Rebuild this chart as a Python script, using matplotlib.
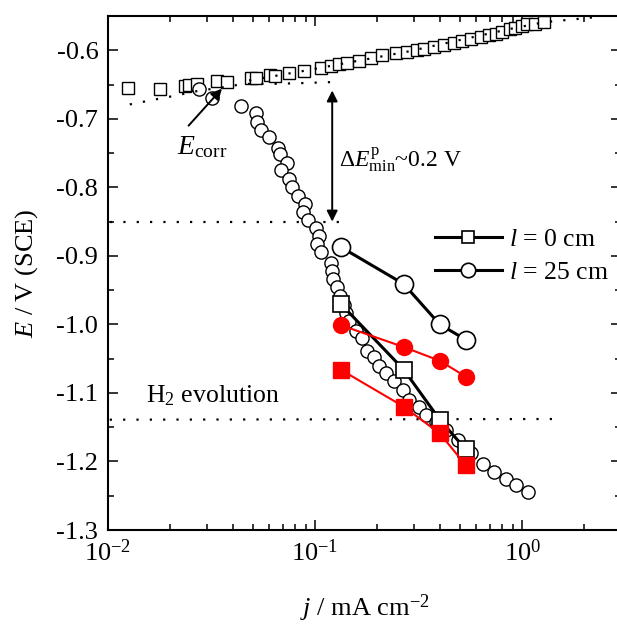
import matplotlib
matplotlib.use('Agg')
import matplotlib.pyplot as plt
from matplotlib.ticker import LogLocator, MultipleLocator, FormatStrFormatter, NullFormatter

plt.rcParams['font.family'] = ['Liberation Serif', 'DejaVu Serif']
plt.rcParams['mathtext.fontset'] = 'custom'
plt.rcParams['mathtext.rm'] = 'Liberation Serif'
plt.rcParams['mathtext.it'] = 'Liberation Serif:italic'
plt.rcParams['axes.unicode_minus'] = False

# anodic polarisation curve (small open squares)
j_anodic = [0.01245, 0.01778, 0.0235, 0.0246, 0.0269, 0.0336, 0.0375, 0.0490, 0.0519,
            0.0606, 0.0640, 0.0748, 0.0885, 0.107, 0.119, 0.131, 0.143, 0.163, 0.187,
            0.211, 0.247, 0.279, 0.311, 0.337, 0.377, 0.421, 0.470, 0.514, 0.569,
            0.636, 0.695, 0.751, 0.803, 0.869, 0.919, 0.993, 1.05, 1.15, 1.28]
E_anodic = [-0.655, -0.657, -0.652, -0.650, -0.649, -0.645, -0.646, -0.640, -0.641,
            -0.636, -0.637, -0.633, -0.630, -0.626, -0.623, -0.620, -0.618, -0.616, -0.611,
            -0.607, -0.604, -0.602, -0.600, -0.598, -0.595, -0.592, -0.590, -0.586, -0.584,
            -0.581, -0.578, -0.576, -0.573, -0.569, -0.567, -0.564, -0.562, -0.561, -0.559]

# cathodic polarisation curve (small open circles)
j_cathodic = [0.0275, 0.0318, 0.0439, 0.0519, 0.0524, 0.0546, 0.0599, 0.0662, 0.0677,
              0.0734, 0.0682, 0.0748, 0.0776, 0.0828, 0.0898, 0.0875, 0.0925, 0.1008,
              0.1045, 0.1026, 0.1066, 0.1191, 0.1202, 0.1222, 0.1270, 0.1321, 0.1381,
              0.1412, 0.1460, 0.1574, 0.1688, 0.1790, 0.1929, 0.2040, 0.2200, 0.2411,
              0.2644, 0.2849, 0.3186, 0.3432, 0.3837, 0.4288, 0.4880, 0.5666, 0.6449,
              0.7345, 0.8366, 0.9354, 1.064]
E_cathodic = [-0.656, -0.670, -0.681, -0.692, -0.705, -0.717, -0.727, -0.742, -0.751,
              -0.764, -0.775, -0.788, -0.800, -0.812, -0.824, -0.836, -0.847, -0.860,
              -0.871, -0.883, -0.895, -0.910, -0.922, -0.933, -0.946, -0.959, -0.971,
              -0.983, -0.995, -1.010, -1.020, -1.039, -1.047, -1.061, -1.071, -1.083,
              -1.095, -1.110, -1.120, -1.132, -1.142, -1.154, -1.169, -1.188, -1.203,
              -1.215, -1.225, -1.234, -1.244]

# galvanostatic points
j_steps = [0.133, 0.268, 0.400, 0.533]
E_l0 = [-0.970, -1.066, -1.139, -1.182]
E_l25 = [-0.887, -0.941, -1.000, -1.022]
E_l0_red = [-1.066, -1.120, -1.159, -1.205]
E_l25_red = [-1.001, -1.033, -1.053, -1.076]

# Tafel fit lines (dotted)
j_fit_a = [0.048, 0.0885, 0.279, 0.869, 1.28, 1.89, 2.37]
E_fit_a = [-0.644, -0.630, -0.602, -0.569, -0.559, -0.554, -0.551]
j_fit_c = [0.01274, 0.0161, 0.0213, 0.0275, 0.0343, 0.0454, 0.0619, 0.0838, 0.131]
E_fit_c = [-0.679, -0.673, -0.666, -0.659, -0.655, -0.649, -0.649, -0.648, -0.646]

j_pass = [0.0102, 0.148]
E_pass = [-0.851, -0.851]
j_h2 = [0.0102, 1.48]
E_h2 = [-1.139, -1.138]

fig = plt.figure(figsize=(6.17, 6.28), dpi=100)
ax = fig.add_axes([0.175, 0.156, 0.8314, 0.8185])

dots = (0, (1, 5))
ax.plot(j_anodic, E_anodic, 's', ms=8, mfc='white', mec='black', mew=1.0, zorder=2)
ax.plot(j_fit_a, E_fit_a, color='black', ls=dots, lw=1.6, zorder=3)
ax.plot(j_fit_c, E_fit_c, color='black', ls=dots, lw=1.6, zorder=3)
ax.plot(j_pass, E_pass, color='black', ls=dots, lw=1.6, zorder=1)
ax.plot(j_h2, E_h2, color='black', ls=dots, lw=1.6, zorder=1)
ax.plot(j_cathodic, E_cathodic, 'o', ms=9.5, mfc='white', mec='black', mew=1.0, zorder=2)

ax.plot(j_steps, E_l0, '-s', color='black', lw=2.2, ms=11.5, mfc='white', mec='black',
        mew=1.2, zorder=4, label=r'$l$ = 0 cm')
ax.plot(j_steps, E_l25, '-o', color='black', lw=2.2, ms=13, mfc='white', mec='black',
        mew=1.2, zorder=4, label=r'$l$ = 25 cm')
ax.plot(j_steps, E_l0_red, '-s', color='red', lw=1.5, ms=11, zorder=5)
ax.plot(j_steps, E_l25_red, '-o', color='red', lw=1.5, ms=11.5, zorder=5)

# annotations
ax.annotate('', xy=(0.121, -0.6586), xytext=(0.121, -0.850),
            arrowprops=dict(arrowstyle='<|-|>', color='black', lw=1.4,
                            mutation_scale=16, shrinkA=0, shrinkB=0))
ax.annotate('', xy=(0.0355, -0.656), xytext=(0.0245, -0.710),
            arrowprops=dict(arrowstyle='-|>', color='black', lw=1.4,
                            mutation_scale=16, shrinkA=0, shrinkB=0))
ax.text(0.1306, -0.771, r'$\Delta E^{\rm p}_{\rm min}$~0.2 V', fontsize=17, va='baseline')
ax.text(0.0215, -0.751, r'$E_{\rm corr}$', fontsize=20, va='baseline')
ax.text(0.0153, -1.114, r'H$_2$ evolution', fontsize=18.5, va='baseline')

ax.set_xscale('log')
ax.set_xlim(0.01, 3)
ax.set_ylim(-1.3, -0.55)
ax.xaxis.set_minor_locator(LogLocator(subs=range(2, 10)))
ax.xaxis.set_minor_formatter(NullFormatter())
ax.yaxis.set_major_locator(MultipleLocator(0.1))
ax.yaxis.set_minor_locator(MultipleLocator(0.05))
ax.yaxis.set_major_formatter(FormatStrFormatter('%.1f'))

ax.tick_params(which='both', direction='in', top=True, right=True, labelsize=19, width=1.1)
ax.tick_params(which='major', length=7.2, pad=7)
ax.tick_params(which='minor', length=4.3)
for s in ax.spines.values():
    s.set_linewidth(1.5)

ax.set_xlabel(r'$j$ / mA cm$^{-2}$', fontsize=19)
ax.set_ylabel(r'$E$ / V (SCE)', fontsize=19)
ax.yaxis.set_label_coords(-0.1326, 0.5)
ax.xaxis.set_label_coords(0.5, -0.121)

ax.legend(loc='upper left', bbox_to_anchor=(0.637, 0.588), frameon=False, fontsize=18.5,
          handlelength=2.6, handletextpad=0.3, labelspacing=0.4, borderpad=0,
          borderaxespad=0, markerscale=0.8)

fig.savefig('out.png', dpi=100)
